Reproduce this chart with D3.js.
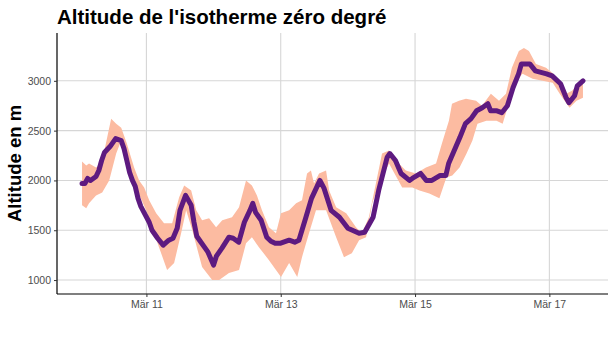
<!DOCTYPE html>
<html><head><meta charset="utf-8">
<script src="https://cdn.jsdelivr.net/npm/d3@7"></script>
<style>body{margin:0;background:#fff}svg{display:block}</style>
</head><body><svg id="c" width="616" height="339"></svg>
<script>
// hours since 2023-03-10 00:00
const lineHours = [1,2,3,4,5,6,7,8,9,11,12,13,15,16,17,18,19,20,21,22,23.5,25,26,28,30,32,33.5,35,36,38,40,41,42,43.5,45,46,48,49,51,53.5,55,57,58,59,61,62,63,65,67,68.5,70,72,74,75,77,78.5,81,83,86,87.5,90,93,96,100,102,105,107,110,111,113,115,118,119,122,124,126,129,131,132,134,136,138,140,142,144,146,147,149,151,153,155,157,158,161,163,167,169,172,174,175,177,178,180];
const lineValues = [1970,1970,2020,2000,2020,2040,2100,2200,2280,2340,2380,2420,2400,2320,2200,2080,2000,1940,1820,1740,1660,1580,1500,1420,1350,1400,1420,1520,1700,1850,1750,1580,1440,1380,1320,1280,1150,1240,1320,1430,1420,1380,1480,1580,1700,1770,1680,1600,1430,1390,1370,1370,1390,1400,1380,1400,1630,1820,2000,1920,1700,1630,1520,1470,1480,1630,1900,2230,2270,2200,2070,2000,2020,2070,2000,2000,2050,2050,2170,2300,2430,2570,2620,2700,2730,2770,2700,2700,2680,2750,2930,3070,3170,3170,3100,3070,3050,2970,2830,2780,2850,2950,3000];

const upperHours = [1,2.5,3.5,6,8,11.4,13.2,15,17,19.6,21.4,23.2,25,27.5,30.3,33.2,35.7,37.5,40,41.8,43.9,46.4,48.9,51.1,54.6,57.1,59.6,61.7,63.5,65.3,67.8,70.3,72.1,75,77.5,79.6,81.4,82.8,83.9,85.7,88.2,89.3,91.8,95.4,98.9,101,103.5,106,108.2,110.7,114.2,116.7,120.3,123.9,127.5,129.6,132.1,133.2,135.7,138.2,141.8,143.9,147.1,150,152.5,154.6,157.1,158.9,160.7,163.2,166.8,169,171.5,174,176.1,178.6,180];
const upperValues = [2190,2150,2170,2130,2170,2620,2570,2530,2370,2130,2000,1930,1800,1670,1570,1570,1830,1950,1900,1700,1600,1620,1530,1600,1630,1730,2000,1950,1850,1700,1530,1470,1670,1700,1770,1800,2070,2100,1970,2070,2100,1900,1730,1670,1530,1470,1630,1970,2270,2300,2170,2100,2070,2130,2170,2370,2600,2770,2800,2820,2800,2750,2870,2800,2870,3130,3300,3330,3300,3170,3130,3080,3000,2870,2900,2970,2980];

const lowerHours = [1,2.5,3.5,6,8.2,10.7,13.2,15,17.8,20.3,23.9,26,28.5,31.4,33.9,36.4,38.2,40.4,43.9,47.5,50,53.5,57.1,59.6,61.7,64.2,67.8,70.3,72.1,75,77.9,79.6,82.1,84.6,88.2,91.8,94.6,97.4,100,102.5,104.7,107.2,110.7,115.4,119,121.6,125.1,128.7,131.2,133.3,135.9,138.4,140.5,142.3,145.5,149.1,151.3,153.8,156.3,158.4,162,165.6,169.2,171.7,174.2,175.2,177.7,180];
const lowerValues = [1750,1720,1770,1850,1880,2000,2270,2400,2170,1930,1700,1530,1330,1100,1170,1470,1700,1500,1130,1000,1000,1070,1100,1370,1430,1330,1200,1100,1030,1170,1030,1230,1470,1700,1700,1430,1230,1270,1400,1430,1770,1970,2170,1930,1930,1900,1870,1820,2030,2050,2130,2270,2400,2570,2600,2600,2570,2800,3000,3070,3020,3000,2980,2870,2770,2730,2800,2830];

const tickDays = [11,13,15,17];
const yTicks = [1000,1500,2000,2500,3000];

const start = new Date(2023,2,10,0,0);
const toDate = h => new Date(start.getTime() + h*3600000);

const svg = d3.select("#c");
const L=57, R=608, T=33, B=294;

const t0 = toDate(1), t1 = toDate(180);
const span = t1 - t0;
const x = d3.scaleTime().domain([new Date(+t0 - span*0.05), new Date(+t1 + span*0.05)]).range([L,R]);
const y = d3.scaleLinear().domain([860,3480]).range([B,T]);

const grid = svg.append("g");
yTicks.forEach(v=>grid.append("line").attr("x1",L).attr("x2",R).attr("y1",y(v)).attr("y2",y(v)).attr("stroke","#d6d6d6").attr("stroke-width",1.1));
const xTickDates = tickDays.map(d=>new Date(2023,2,d));
xTickDates.forEach(d=>grid.append("line").attr("x1",x(d)).attr("x2",x(d)).attr("y1",T).attr("y2",B).attr("stroke","#d6d6d6").attr("stroke-width",1.1));

// ribbon polygon
const up = upperHours.map((h,i)=>[x(toDate(h)), y(upperValues[i])]);
const lo = lowerHours.map((h,i)=>[x(toDate(h)), y(lowerValues[i])]).reverse();
svg.append("path").attr("d", d3.line()(up.concat(lo))+"Z").attr("fill","#fcbba1").attr("stroke","none");

svg.append("path")
  .datum(lineHours.map((h,i)=>({t:toDate(h),v:lineValues[i]})))
  .attr("d", d3.line().x(d=>x(d.t)).y(d=>y(d.v)))
  .attr("fill","none").attr("stroke","#5d1a80").attr("stroke-width",5)
  .attr("stroke-linejoin","round").attr("stroke-linecap","round");

// axes
const fmt = d => "Mär " + d.getDate();
const xAxis = svg.append("g").attr("transform",`translate(0,${B})`)
  .call(d3.axisBottom(x).tickValues(xTickDates).tickFormat(fmt).tickSizeOuter(0).tickSize(3).tickPadding(4));
const yAxis = svg.append("g").attr("transform",`translate(${L},0)`)
  .call(d3.axisLeft(y).tickValues(yTicks).tickFormat(d3.format("d")).tickSizeOuter(0).tickSize(3).tickPadding(3));
[xAxis,yAxis].forEach(g=>{
  g.select(".domain").attr("stroke","#000").attr("stroke-width",1.2);
  g.selectAll(".tick line").attr("stroke","#333");
  g.selectAll(".tick text").attr("fill","#4d4d4d").style("font-family","'Liberation Sans',Arial,sans-serif").style("font-size","10.5px");
});
xAxis.select(".domain").attr("d",`M${L},0H${R}`);
yAxis.select(".domain").attr("d",`M0,${T}V${B}`);

svg.append("text").attr("x",57).attr("y",24).text("Altitude de l'isotherme zéro degré")
  .style("font-family","'Liberation Sans',Arial,sans-serif").style("font-weight","bold").style("font-size","20.5px").attr("fill","#000");
svg.append("text").attr("transform",`translate(21,${(T+B)/2}) rotate(-90)`).attr("text-anchor","middle")
  .text("Altitude en m").style("font-family","'Liberation Sans',Arial,sans-serif").style("font-weight","bold").style("font-size","18.5px").attr("fill","#000");
</script></body></html>
